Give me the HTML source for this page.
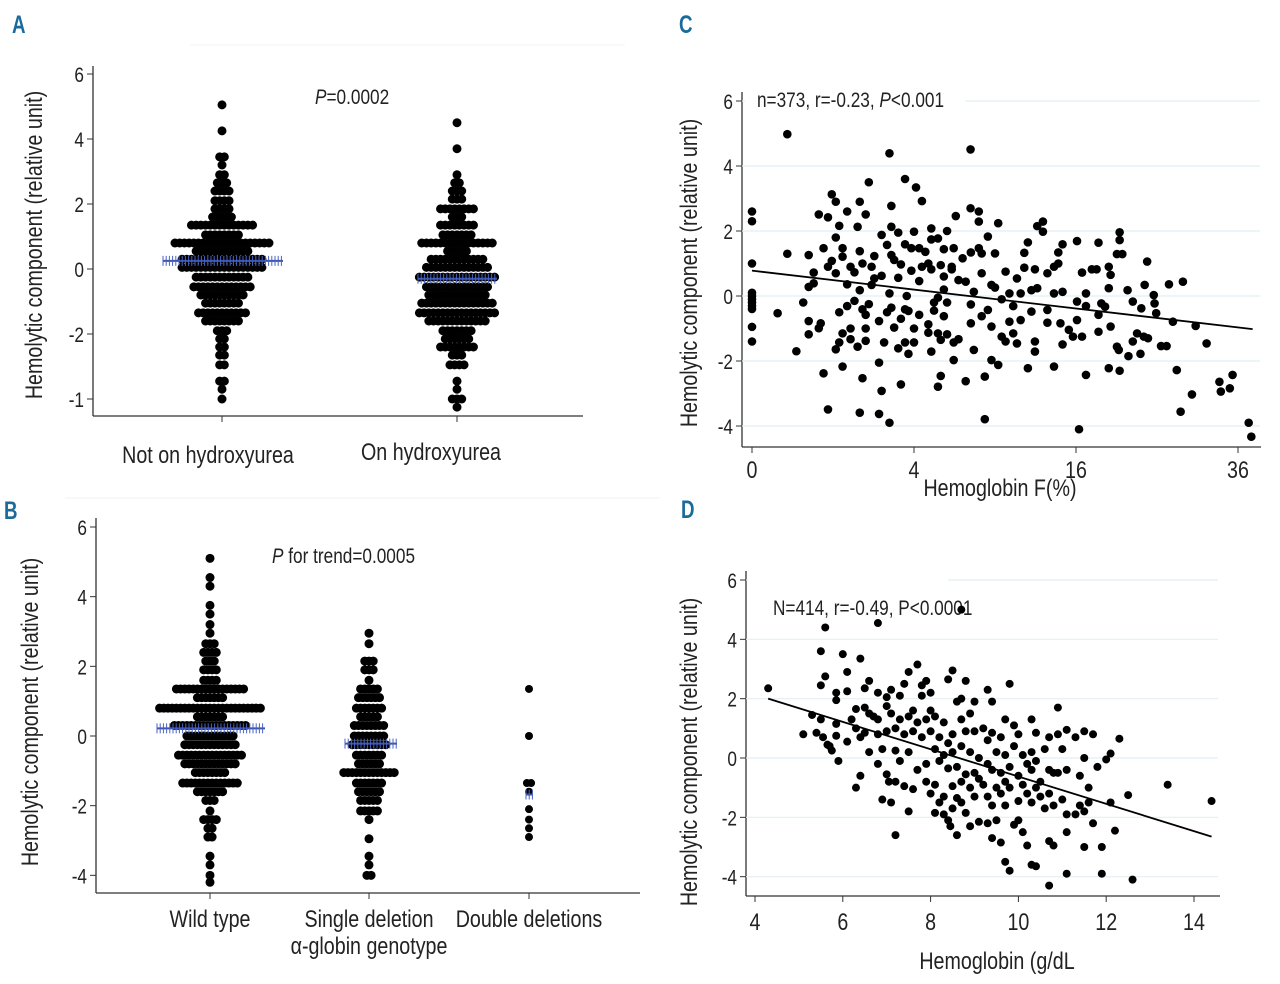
<!DOCTYPE html>
<html><head><meta charset="utf-8">
<style>
html,body{margin:0;padding:0;background:#fff;}
svg{display:block;font-family:"Liberation Sans Narrow","Liberation Sans",sans-serif;}
.tk{font-size:21px;fill:#222;}
.ttl{font-size:24px;fill:#222;}
.pl{font-size:25px;font-weight:bold;fill:#1b6a9c;}
</style></head>
<body>
<svg id="fig" width="1280" height="984" viewBox="0 0 1280 984">
<line x1="190" y1="45" x2="625" y2="45" stroke="#f2f4f5"/>
<line x1="65" y1="498" x2="660" y2="498" stroke="#eef3f5"/>
<text class="pl" x="12" y="33" transform="translate(12 0) scale(.75 1) translate(-12 0)">A</text>
<text class="pl" x="4" y="519" transform="translate(4 0) scale(.75 1) translate(-4 0)">B</text>
<text class="pl" x="679" y="33" transform="translate(679 0) scale(.75 1) translate(-679 0)">C</text>
<text class="pl" x="681" y="518" transform="translate(681 0) scale(.75 1) translate(-681 0)">D</text>
</svg>
<script>
// ---------- Panel A data ----------
const aCategories = ["Not on hydroxyurea","On hydroxyurea"];
const aRowValuesG1 = [5.05,4.25,3.45,3.2,2.9,2.65,2.4,2.1,1.85,1.6,1.35,1.05,0.8,0.55,0.3,0.05,-0.25,-0.55,-0.8,-1.05,-1.35,-1.6,-1.9,-2.15,-2.4,-2.65,-2.95,-3.45,-3.7,-4.0];
const aRowCountsG1 = [1,1,2,1,2,3,4,4,4,5,14,8,21,12,18,18,12,13,10,8,11,8,3,2,2,2,2,2,1,1];
const aRowValuesG2 = [4.5,3.7,2.9,2.65,2.4,2.15,1.85,1.6,1.35,1.05,0.8,0.55,0.3,0.05,-0.25,-0.55,-0.8,-1.05,-1.35,-1.6,-1.9,-2.15,-2.4,-2.65,-2.95,-3.45,-3.7,-4.0,-4.25];
const aRowCountsG2 = [1,1,1,2,3,3,8,3,8,7,16,5,12,14,17,14,13,16,17,13,7,6,8,3,4,1,1,3,1];
const aMedians = [0.25,-0.3];
const aYTicks = [6,4,2,0,-2,-4];
const aYTickLabels = ["6","4","2","0","-2","-1"];

// ---------- Panel B data ----------
const bCategories = ["Wild type","Single deletion","Double deletions"];
const bRowValuesWT = [5.1,4.55,4.3,3.75,3.5,3.2,2.95,2.65,2.4,2.15,1.9,1.6,1.35,1.1,0.8,0.55,0.3,0.0,-0.25,-0.55,-0.8,-1.05,-1.35,-1.6,-1.85,-2.15,-2.4,-2.65,-2.9,-3.45,-3.7,-4.0,-4.2];
const bRowCountsWT = [1,1,1,1,1,1,1,3,4,3,4,4,17,7,25,7,18,12,13,16,13,8,14,7,3,1,4,2,2,1,1,1,1];
const bRowValuesSD = [2.95,2.65,2.15,1.9,1.6,1.35,1.1,0.8,0.55,0.3,0.0,-0.25,-0.55,-0.8,-1.05,-1.35,-1.6,-1.85,-2.15,-2.4,-2.95,-3.45,-3.7,-4.0];
const bRowCountsSD = [1,1,3,3,1,5,6,7,5,8,8,9,7,6,13,7,6,5,5,1,1,1,1,2];
const bRowValuesDD = [1.35,0.0,-1.35,-1.6,-2.1,-2.4,-2.65,-2.9];
const bRowCountsDD = [1,1,2,1,1,1,1,1];
const bMedians = [0.22,-0.22,-1.68];
const bYTicks = [6,4,2,0,-2,-4];
const bYTickLabels = ["6","4","2","0","-2","-4"];

// ---------- Panel C data (HbF %, hemolytic component) ----------
const cHbF = [0,0,0,0,0,0,0,0,0,0,0,
0.1,0.19,0.19,0.3,0.4,0.49,0.49,0.49,0.49,0.58,0.58,0.68,0.68,0.72,0.78,0.78,0.88,0.88,0.88,0.97,0.97,
1.07,1.07,1.07,1.07,1.16,1.16,1.16,1.25,1.25,1.25,1.25,1.38,1.38,1.38,1.48,1.48,1.48,1.6,1.6,1.7,1.7,
1.77,1.77,1.77,1.77,1.86,1.86,1.86,1.97,1.97,1.97,1.97,2.08,2.08,2.18,2.18,2.28,2.28,2.46,2.46,2.46,
2.56,2.56,2.56,2.66,2.78,2.78,2.88,2.88,2.88,2.96,2.96,2.96,2.96,3.08,3.08,3.26,3.26,3.26,3.38,3.38,3.38,
3.57,3.57,3.57,3.57,3.65,3.73,3.73,3.87,3.87,4.0,4.0,4.0,4.1,4.26,4.26,4.26,4.4,4.4,4.58,4.74,4.74,4.74,
4.9,4.9,4.9,4.9,5.05,5.05,5.27,5.27,5.27,5.27,5.43,5.43,5.43,5.61,5.61,5.61,5.61,5.8,5.8,5.8,6.08,6.08,
6.2,6.2,6.2,6.33,6.5,6.5,6.76,6.96,6.96,7.28,7.28,7.3,7.3,7.3,7.5,7.5,7.84,7.84,7.84,8.04,8.04,8.04,
8.26,8.26,8.48,8.48,8.74,8.74,8.74,9.0,9.0,9.24,9.24,9.5,9.5,9.8,9.8,10.1,10.1,10.4,10.4,10.7,10.7,
11,11,11.3,11.3,11.6,11.6,11.9,11.9,12.2,12.2,12.2,12.4,12.4,12.9,12.9,13.3,13.3,13.3,13.9,13.9,13.9,
14.3,14.3,14.5,14.7,14.7,14.7,15.3,15.7,16.3,16.1,16.1,16.1,16.6,16.6,17,17,17,17.6,18.1,18.3,18.3,18.3,
18.6,19,19.4,19.4,19.4,19.6,19.6,20.3,20.3,20.5,20.6,20.6,20.6,20.9,21.5,21.6,22.1,22.1,22.6,23,23.1,23.4,
23.5,23.8,23.9,24.6,24.7,24.9,25.5,26.2,26.5,27,27.5,28,28.3,29.5,30,31.5,33.3,33.5,34.8,35.2,37.6,38];
const cScore = [2.6,2.3,1.0,0.1,0,-0.1,-0.2,-0.3,-0.4,-0.95,-1.4,
-0.53,4.98,1.3,-1.7,-0.2,1.26,0.28,-0.77,-1.18,0.72,0.39,2.51,-0.99,-0.84,-2.38,1.47,2.42,0.9,-3.49,3.13,1.08,
1.8,0.7,-1.64,2.9,2.16,-0.5,-1.43,1.47,1.21,-1.15,-2.17,2.6,0.36,-0.31,0.9,-1.0,-1.33,0.73,-0.15,2.13,-1.56,
2.9,1.38,-3.59,0.18,1.0,-0.41,-2.53,2.51,-0.58,-1.0,-1.38,3.5,-0.25,0.34,0.9,1.23,0.54,-2.05,-3.63,-0.77,
1.88,-2.92,0.62,-1.43,1.57,-0.5,4.39,-3.9,0.08,2.77,2.13,1.26,-0.36,1.11,-0.97,1.95,0.56,-1.61,0.97,-0.7,-2.72,
3.6,1.59,-0.41,-1.43,0,-0.46,-1.78,0.78,1.47,1.98,-1.0,-1.43,3.34,-0.58,0.46,1.47,2.92,0.9,1.36,1.0,-0.87,-1.13,
2.08,1.74,-1.71,0.82,-0.45,-0.2,1.77,-2.79,-1.15,-0.05,0.95,-1.35,-2.46,0.2,0.6,1.44,-0.62,2.0,-1.18,-0.2,0.9,0.82,
1.47,-1.97,-1.43,2.46,0.49,-1.33,1.16,-2.62,0.44,2.7,4.51,1.34,-0.26,-0.84,-1.66,0.13,1.47,2.29,2.6,1.31,0.7,-0.62,
-3.79,-2.48,1.83,-0.43,-1.97,-0.94,0.34,1.31,0.26,2.24,-2.12,-1.25,-0.1,0.75,-1.4,-0.79,0.08,-1.15,-0.31,0.54,-1.46,
-0.74,0.08,1.33,0.87,-2.22,1.65,-0.48,0.18,-1.4,-1.71,0.82,0.24,2.15,1.98,2.29,-0.43,-0.82,0.7,-2.17,0.08,0.9,
1.34,1.0,-0.84,1.59,-1.49,0.13,-1.04,-1.25,-4.1,1.69,-0.17,-0.74,-1.25,0.72,-0.31,0.08,-2.43,0.82,0.82,1.64,-0.58,-1.1,
-0.23,-0.33,0.9,0.24,-2.22,0.65,-0.94,1.29,-1.56,-1.66,1.72,1.96,-2.3,1.29,0.18,-1.85,-0.17,-1.4,-1.15,-1.78,-0.38,-1.25,
0.34,1.06,-1.3,0.03,-0.23,-0.53,-1.54,-1.54,0.36,-0.79,-2.28,-3.56,0.44,-3.03,-0.92,-1.46,-2.64,-2.94,-2.84,-2.43,-3.9,-4.33];
const cFit = [0.78,-1.02];
const cXTicks = [0,4,16,36];
const cXTickLabels = ["0","4","16","36"];
const cYTicks = [6,4,2,0,-2,-4];
const cYTickLabels = ["6","4","2","0","-2","-4"];

// ---------- Panel D data (Hb g/dL, hemolytic component) ----------
const dHb = [4.3,5.1,5.3,5.4,5.5,5.5,5.5,5.55,5.6,5.6,5.65,5.7,5.75,5.85,5.85,5.85,5.85,5.9,6.0,6.1,6.1,6.1,6.2,6.3,6.3,6.3,6.4,6.4,6.4,6.5,6.5,6.5,6.6,6.6,6.6,6.7,6.8,6.8,6.8,6.8,6.8,6.9,6.9,7.0,7.0,7.0,7.0,7.05,7.1,7.1,7.1,7.2,7.2,7.2,7.2,7.3,7.3,7.3,7.4,7.4,7.4,7.5,7.5,7.5,7.5,7.6,7.6,7.6,7.7,7.7,7.7,7.8,7.8,7.8,7.9,7.9,7.9,7.9,8.0,8.0,8.0,8.0,8.1,8.1,8.1,8.1,8.2,8.2,8.2,8.3,8.3,8.3,8.3,8.4,8.4,8.4,8.4,8.45,8.5,8.5,8.5,8.5,8.5,8.6,8.6,8.6,8.6,8.7,8.7,8.7,8.7,8.7,8.8,8.8,8.8,8.8,8.9,8.9,8.9,8.9,9.0,9.0,9.0,9.0,9.1,9.1,9.1,9.2,9.2,9.3,9.3,9.3,9.3,9.3,9.4,9.4,9.4,9.4,9.4,9.5,9.5,9.5,9.6,9.6,9.6,9.6,9.7,9.7,9.7,9.7,9.7,9.8,9.8,9.8,9.8,9.9,9.9,9.9,10.0,10.0,10.0,10.0,10.1,10.1,10.1,10.2,10.2,10.2,10.3,10.3,10.3,10.3,10.3,10.4,10.4,10.4,10.4,10.5,10.5,10.6,10.6,10.7,10.7,10.7,10.7,10.7,10.8,10.8,10.8,10.9,10.9,10.9,11.0,11.0,11.1,11.1,11.1,11.1,11.1,11.3,11.3,11.4,11.4,11.5,11.5,11.5,11.5,11.6,11.6,11.7,11.7,11.8,11.9,11.9,12.0,12.1,12.1,12.2,12.3,12.5,12.6,13.4,14.4,8.7];
const dScore = [2.35,0.8,1.45,0.85,3.6,2.45,1.3,0.7,4.4,2.75,0.45,0.4,0.25,2.2,1.95,1.15,0.75,-0.1,3.5,2.9,2.25,0.55,1.3,1.65,1.0,-1.0,3.35,0.7,-0.6,2.35,1.7,0.85,2.6,1.5,0.2,1.4,4.55,2.2,1.3,0.8,-0.2,0.3,-1.4,2.05,1.75,0.9,-0.55,-0.8,2.3,1.5,-1.5,1.0,0.25,-0.8,-2.6,2.1,1.3,-0.1,2.5,0.8,-0.95,2.9,1.4,0.2,-1.8,1.6,0.9,-1.05,3.15,1.2,-0.4,2.45,2.1,0.7,2.6,1.3,-0.2,-0.8,2.2,1.6,0.9,-1.2,1.4,0.3,-0.9,-1.85,0.7,-0.1,-1.5,1.2,0.1,-1.3,-1.9,2.65,0.5,-0.35,-2.1,-2.3,2.95,0.8,0.2,-0.95,-1.7,1.9,-0.3,-1.35,-2.6,2.0,1.3,0.4,-0.8,-1.5,2.6,0.9,-0.55,-1.85,1.5,0.2,-1.0,-2.3,1.9,0.9,-0.5,-1.3,0.0,-0.7,-2.15,1.0,-0.9,2.3,0.6,-0.2,-1.3,-2.2,1.9,0.85,-0.4,-1.6,-2.7,0.2,-1.0,-2.1,0.7,-0.5,-1.2,-2.85,1.3,0.1,-0.8,-1.6,-3.5,2.5,-0.3,-1.0,-3.8,1.1,0.4,-2.25,0.8,-0.6,-1.45,-2.1,0.1,-0.9,-2.5,-0.2,-1.2,-2.95,1.3,0.2,-0.4,-1.5,-3.6,0.85,-0.1,-1.0,-3.65,-0.8,-1.3,0.3,-1.7,0.7,-0.4,-1.2,-2.8,-4.3,-0.5,-1.6,-2.95,1.7,0.8,-0.5,0.3,-1.4,0.95,-0.4,-1.9,-2.5,-3.9,0.7,-1.9,-0.6,-1.6,0.9,0.0,-1.8,-3.0,-1.0,-1.5,0.8,-2.2,-0.3,-3.0,-3.9,-0.05,0.15,-1.5,-2.45,0.65,-1.25,-4.1,-0.9,-1.45,5.0];
const dFitX = [4.3,14.4];
const dFitY = [2.0,-2.65];
const dXTicks = [4,6,8,10,12,14];
const dXTickLabels = ["4","6","8","10","12","14"];
const dYTicks = [6,4,2,0,-2,-4];
const dYTickLabels = ["6","4","2","0","-2","-4"];

const NS = "http://www.w3.org/2000/svg";
const svg = document.getElementById("fig");
const SQ = 0.82;
function mk(tag, attrs, parent){
  const e = document.createElementNS(NS, tag);
  for (const k in attrs) e.setAttribute(k, attrs[k]);
  (parent||svg).appendChild(e);
  return e;
}
function txt(parent, x, y, anchor, cls){
  return mk("text",{x:x,y:y,"text-anchor":anchor,class:cls,
    transform:"translate("+x+" 0) scale("+SQ+" 1) translate("+(-x)+" 0)"},parent);
}
function linY(v0, p0, v1, p1){ return v => p0 + (v - v0) * (p1 - p0) / (v1 - v0); }

function yAxis(g, ax, yTop, yBot, ticks, labels, ys, prefix, grid){
  const l = mk("line",{x1:ax,y1:yTop,x2:ax,y2:yBot,stroke:"#333","stroke-width":1.3},g);
  
  
  ticks.forEach((t,i)=>{
    const y = ys(t);
    if (grid){
      const gl = mk("line",{x1:ax,y1:y,x2:grid,y2:y,stroke:"#e4eff3","stroke-width":1.2},g);
      
      
    }
    const tk = mk("line",{x1:ax-6,y1:y,x2:ax,y2:y,stroke:"#333"},g);
    
    
    const tx = txt(g, ax-9, y+8, "end", "tk");
    tx.textContent = labels[i];
    
    
  });
}
function yTitle(g, x, y, prefix){
  const t = mk("text",{x:x,y:y,"text-anchor":"middle",class:"ttl",
    transform:"rotate(-90 "+x+" "+y+") translate("+x+" 0) scale("+SQ+" 1) translate("+(-x)+" 0)"},g);
  t.textContent = "Hemolytic component (relative unit)";
  
  
}
function swarm(g, cx, vals, counts, ys, sp, r, prefix){
  vals.forEach((v,i)=>{
    const n = counts[i];
    for (let k=0;k<n;k++){
      const c = mk("circle",{cx:cx+(k-(n-1)/2)*sp, cy:ys(v), r:r, fill:"#000"},g);
      
      
    }
  });
}
function median(g, x1, x2, y, prefix){
  const l = mk("line",{x1:x1,y1:y,x2:x2,y2:y,stroke:"#3a55b0","stroke-width":2},g);
  
  
  for (let x=x1; x<=x2; x+=3.2){
    const t = mk("line",{x1:x,y1:y-5,x2:x,y2:y+5,stroke:"#4a63c0","stroke-width":1},g);
    
    
  }
}

// ===== Panel A =====
(function(){
  const g = mk("g",{});  
  const ys = linY(0, 269, 6, 74);
  yAxis(g, 93, 66, 416, aYTicks, aYTickLabels, ys, "panel-a", 0);
  const xl = mk("line",{x1:93,y1:416,x2:583,y2:416,stroke:"#333","stroke-width":1.3},g);
   
  const cxs = [222,457];
  const lx = [208,431];
  aCategories.forEach((c,i)=>{
    const tk = mk("line",{x1:cxs[i],y1:416,x2:cxs[i],y2:422,stroke:"#333"},g);
     
    const t = txt(g, lx[i], i?460:463, "middle", "ttl");
    t.textContent = c;
     
  });
  swarm(g, cxs[0], aRowValuesG1, aRowCountsG1, ys, 4.7, 4.5, "panel-a-not-hu");
  swarm(g, cxs[1], aRowValuesG2, aRowCountsG2, ys, 4.7, 4.5, "panel-a-hu");
  median(g, 163, 283, ys(aMedians[0]), "panel-a-not-hu");
  median(g, 418, 497, ys(aMedians[1]), "panel-a-hu");
  yTitle(g, 42, 245, "panel-a");
  const p = txt(g, 315, 104, "start", "tk");
  p.innerHTML = '<tspan font-style="italic">P</tspan>=0.0002';
   
})();

// ===== Panel B =====
(function(){
  const g = mk("g",{});  
  const ys = linY(0, 736, 6, 527);
  yAxis(g, 96, 518, 893, bYTicks, bYTickLabels, ys, "panel-b", 0);
  const xl = mk("line",{x1:96,y1:893,x2:640,y2:893,stroke:"#333","stroke-width":1.3},g);
   
  const cxs = [210,369,529];
  bCategories.forEach((c,i)=>{
    const tk = mk("line",{x1:cxs[i],y1:893,x2:cxs[i],y2:899,stroke:"#333"},g);
     
    const t = txt(g, cxs[i], 927, "middle", "ttl");
    t.textContent = c;
     
  });
  const st = txt(g, 369, 954, "middle", "ttl");
  st.textContent = "\u03b1-globin genotype";
   
  swarm(g, cxs[0], bRowValuesWT, bRowCountsWT, ys, 4.2, 4.5, "panel-b-wild-type");
  swarm(g, cxs[1], bRowValuesSD, bRowCountsSD, ys, 4.2, 4.5, "panel-b-single-deletion");
  swarm(g, cxs[2], bRowValuesDD, bRowCountsDD, ys, 4.2, 4, "panel-b-double-deletions");
  median(g, 157, 265, ys(bMedians[0]), "panel-b-wild-type");
  median(g, 345, 397, ys(bMedians[1]), "panel-b-single-deletion");
  median(g, 526, 533, ys(bMedians[2]), "panel-b-double-deletions");
  yTitle(g, 38, 712, "panel-b");
  const p = txt(g, 272, 563, "start", "tk");
  p.innerHTML = '<tspan font-style="italic">P</tspan> for trend=0.0005';
   
})();

// ===== Panel C =====
(function(){
  const g = mk("g",{});  
  const ys = linY(0, 296, 6, 101);
  const xs = v => 752 + Math.sqrt(v) * 81;
  yAxis(g, 742, 92, 447, cYTicks, cYTickLabels, ys, "panel-c", 1260);
  const xl = mk("line",{x1:742,y1:447,x2:1261,y2:447,stroke:"#333","stroke-width":1.3},g);
   
  cXTicks.forEach((t,i)=>{
    const x = xs(t);
    const tk = mk("line",{x1:x,y1:447,x2:x,y2:453,stroke:"#333"},g);
     
    const tx = txt(g, x, 478, "middle", "ttl");
    tx.textContent = cXTickLabels[i];
     
  });
  const xt = txt(g, 1000, 496, "middle", "ttl");
  xt.textContent = "Hemoglobin F(%)";
   
  yTitle(g, 697, 273, "panel-c");
  const bg = mk("rect",{x:745,y:88,width:220,height:24,fill:"#fff"},g);
   
  const a = txt(g, 757, 107, "start", "tk");
  a.innerHTML = 'n=373, r=-0.23, <tspan font-style="italic">P</tspan>&lt;0.001';
   
  cHbF.forEach((v,i)=>{
    const c = mk("circle",{cx:xs(v),cy:ys(cScore[i]),r:4.3,fill:"#000"},g);
     
  });
  const fl = mk("line",{x1:xs(0),y1:ys(cFit[0]),x2:xs(38.2),y2:ys(cFit[1]),stroke:"#000","stroke-width":1.8},g);
   
})();

// ===== Panel D =====
(function(){
  const g = mk("g",{});  
  const ys = linY(0, 758, 6, 580);
  const xs = linY(4, 755, 14, 1194);
  yAxis(g, 746, 571, 896, dYTicks, dYTickLabels, ys, "panel-d", 1218);
  const xl = mk("line",{x1:746,y1:896,x2:1220,y2:896,stroke:"#333","stroke-width":1.3},g);
   
  dXTicks.forEach((t,i)=>{
    const x = xs(t);
    const tk = mk("line",{x1:x,y1:896,x2:x,y2:902,stroke:"#333"},g);
     
    const tx = txt(g, x, 930, "middle", "ttl");
    tx.textContent = dXTickLabels[i];
     
  });
  const xt = txt(g, 997, 969, "middle", "ttl");
  xt.textContent = "Hemoglobin (g/dL";
   
  yTitle(g, 697, 752, "panel-d");
  const bg = mk("rect",{x:748,y:572,width:200,height:14,fill:"#fff"},g);
   
  const a = txt(g, 773, 615, "start", "tk");
  a.textContent = "N=414, r=-0.49, P<0.0001";
   
  dHb.forEach((v,i)=>{
    const c = mk("circle",{cx:xs(v),cy:ys(dScore[i]),r:4,fill:"#000"},g);
     
  });
  const fl = mk("line",{x1:xs(dFitX[0]),y1:ys(dFitY[0]),x2:xs(dFitX[1]),y2:ys(dFitY[1]),stroke:"#000","stroke-width":1.8},g);
   
})();
</script>
</body></html>
